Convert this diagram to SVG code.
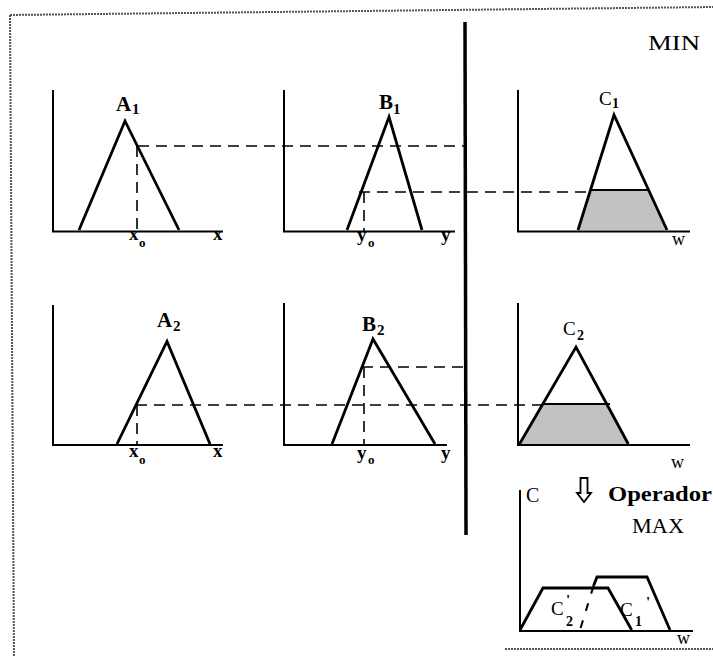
<svg xmlns="http://www.w3.org/2000/svg" width="713" height="657" viewBox="0 0 713 657">
<style>
.ax{fill:none;stroke:#000;stroke-width:2}
.tri{fill:none;stroke:#000;stroke-width:2.8;stroke-linejoin:miter}
.sh{fill:#c2c2c2;stroke:none}
.ds{fill:none;stroke:#000;stroke-width:1.6;stroke-dasharray:11 7}
.bd{fill:none;stroke:#555;stroke-width:2;stroke-dasharray:2 1}
text{font-family:"Liberation Serif","Times New Roman",serif;fill:#000}
.lb{font-size:21px;font-weight:bold}
.sb{font-size:15px;font-weight:bold}
.al{font-size:19px;font-weight:bold}
.as{font-size:13px;font-weight:bold}
.w{font-size:18px}
</style>
<rect width="713" height="657" fill="#fff"/>
<g id="border">
<line class="bd" x1="10" y1="15" x2="713" y2="7"/>
<line class="bd" x1="10" y1="15" x2="14" y2="657"/>
<line class="bd" x1="505" y1="649" x2="713" y2="649"/>
</g>
<text x="648" y="50" font-size="20" textLength="52" lengthAdjust="spacingAndGlyphs">MIN</text>
<g id="A1">
<polyline class="ax" points="53,90 53,231.5 223,231.5"/>
<polyline class="tri" points="79,230 125,121 179,230"/>
<text class="lb" x="116" y="111">A</text><text class="sb" x="132" y="114">1</text>
<text class="al" x="129" y="240">x</text><text class="as" x="139" y="247">o</text>
<text class="al" x="213" y="240">x</text>
</g>
<g id="B1">
<polyline class="ax" points="284,90 284,231.5 455,231.5"/>
<polyline class="tri" points="347,230 389,117 422,230"/>
<text class="lb" x="379" y="109">B</text><text class="sb" x="393" y="114">1</text>
<text class="al" x="357" y="241">y</text><text class="as" x="368" y="247">o</text>
<text class="al" x="441" y="241">y</text>
</g>
<g id="C1">
<polygon class="sh" points="578,230 590.5,190 648.6,190 667,230"/>
<line x1="590.5" y1="190" x2="648.6" y2="190" stroke="#000" stroke-width="2"/>
<polyline class="ax" points="518,90 518,231.5 690,231.5"/>
<polyline class="tri" points="578,230 614,115 667,230"/>
<text x="599" y="105" font-size="19">C</text><text x="612" y="108" font-size="14" font-weight="bold">1</text>
<text class="w" x="672" y="245">w</text>
</g>
<g id="A2">
<polyline class="ax" points="53,305 53,445 223,445"/>
<polyline class="tri" points="117,444 167,341.5 210,444"/>
<text class="lb" x="157" y="327">A</text><text class="sb" x="173" y="331">2</text>
<text class="al" x="129" y="457">x</text><text class="as" x="139" y="464">o</text>
<text class="al" x="213" y="457">x</text>
</g>
<g id="B2">
<polyline class="ax" points="284,303 284,445 447,445"/>
<polyline class="tri" points="332,444 373,339 435,444"/>
<text class="lb" x="362" y="331">B</text><text class="sb" x="377" y="335">2</text>
<text class="al" x="357" y="459">y</text><text class="as" x="368" y="464">o</text>
<text class="al" x="441" y="459">y</text>
</g>
<g id="C2">
<polygon class="sh" points="519.5,444 542.8,404 606.6,404 628.3,444"/>
<line x1="542.8" y1="404" x2="610" y2="404" stroke="#000" stroke-width="2"/>
<polyline class="ax" points="518,303 518,445 690,445"/>
<polyline class="tri" points="519.5,444 576,347 628.3,444"/>
<text x="563" y="335" font-size="19">C</text><text x="577" y="340" font-size="14" font-weight="bold">2</text>
<text class="w" x="671" y="468">w</text>
</g>
<g id="operador">
<path d="M580.5,478 V493 H577 L584,502 L591,493 H587.5 V478 Z" fill="#fff" stroke="#000" stroke-width="1.8" stroke-linejoin="miter"/>
<text x="608" y="501" font-size="20" font-weight="bold" textLength="104" lengthAdjust="spacingAndGlyphs">Operador</text>
<text x="632" y="533" font-size="21" textLength="52" lengthAdjust="spacingAndGlyphs">MAX</text>
</g>
<g id="C">
<polyline class="ax" points="520,490 520,631 693,631"/>
<text x="526" y="502" font-size="20">C</text>
<polyline class="tri" points="520,630 543,588 608,588 631.7,630"/>
<polyline class="tri" points="593.5,586 597,577 647,577 670,630"/>
<line x1="593.5" y1="586" x2="580" y2="630" stroke="#000" stroke-width="2" stroke-dasharray="8 10"/>
<text x="551" y="615" font-size="19">C</text><text x="566" y="605" font-size="15" font-weight="bold">'</text><text x="566" y="626" font-size="14" font-weight="bold">2</text>
<text x="620" y="616" font-size="19">C</text><text x="646" y="607" font-size="15" font-weight="bold">'</text><text x="635" y="626" font-size="14" font-weight="bold">1</text>
<text class="w" x="677" y="644">w</text>
</g>
<g id="connectors">
<line x1="465" y1="22" x2="466" y2="535" stroke="#000" stroke-width="3.5"/>
<line class="ds" x1="138" y1="146" x2="465" y2="146"/>
<line class="ds" x1="137" y1="146" x2="137" y2="231"/>
<line class="ds" x1="359" y1="192" x2="588" y2="192"/>
<line class="ds" x1="364" y1="192" x2="364" y2="231"/>
<line class="ds" x1="362" y1="367" x2="465" y2="367"/>
<line class="ds" x1="364" y1="367" x2="364" y2="445"/>
<line class="ds" x1="136" y1="405" x2="542" y2="405"/>
<line class="ds" x1="137" y1="405" x2="137" y2="445"/>
</g>
</svg>
